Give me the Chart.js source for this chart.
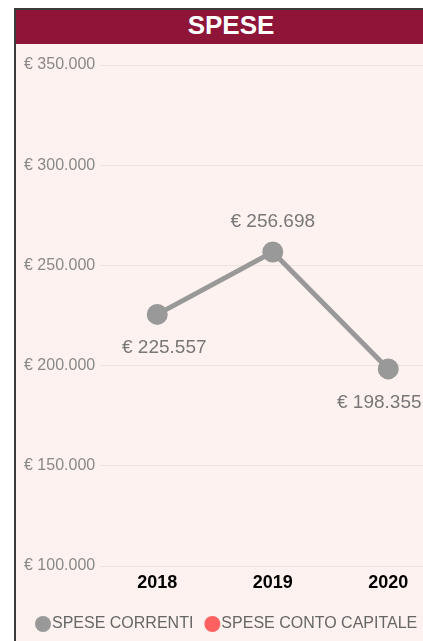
<!DOCTYPE html>
<html>
<head>
<meta charset="utf-8">
<script src="https://cdn.jsdelivr.net/npm/chart.js@4.4.0/dist/chart.umd.min.js"></script>
<style>
  html, body { margin: 0; padding: 0; background: #fff; overflow: hidden; }
  .card {
    position: absolute; left: 14px; top: 8px; width: 430px;
    border-top: 2px solid #3b3b3b; border-left: 2px solid #3b3b3b;
    background: #fdf2ef;
  }
  .card-title {
    height: 34px; line-height: 35px; background: #8e1538; color: #fff;
    text-align: center; font: bold 26px "Liberation Sans", Arial, sans-serif;
  }
  .chart-box { position: relative; width: 443px; height: 598px; background: #fdf2ef; }
  canvas { display: block; }
</style>
</head>
<body>
<div class="card">
  <div class="card-title">SPESE</div>
  <div class="chart-box"><canvas id="speseChart" width="443" height="598"></canvas></div>
</div>
<script>
const anni = ["2018", "2019", "2020"]
const speseCorrenti = [225557, 256698, 198355]
const speseContoCapitale = [null, null, null]
const tickValori = [100000, 150000, 200000, 250000, 300000, 350000]

function euro(v) {
  return "€ " + String(Math.round(v)).replace(/\B(?=(\d{3})+(?!\d))/g, ".")
}

// etichette dei valori sopra/sotto i punti
const etichettePunti = {
  id: "etichettePunti",
  afterDatasetsDraw(chart, args, opts) {
    const ctx = chart.ctx
    const meta = chart.getDatasetMeta(0)
    ctx.save()
    ctx.font = opts.font
    ctx.fillStyle = opts.color
    ctx.textAlign = "center"
    ctx.textBaseline = "middle"
    meta.data.forEach((pt, i) => {
      const pos = opts.posizioni[i]
      ctx.fillText(euro(speseCorrenti[i]), pt.x + pos[0], pt.y + pos[1])
    })
    ctx.restore()
  }
}

const ctx = document.getElementById("speseChart").getContext("2d")
new Chart(ctx, {
  type: "line",
  data: {
    labels: anni,
    datasets: [
      {
        label: "SPESE CORRENTI",
        data: speseCorrenti,
        borderColor: "#999999",
        backgroundColor: "#999999",
        borderWidth: 5,
        pointRadius: 8,
        pointHoverRadius: 8,
        tension: 0,
      },
      {
        label: "SPESE CONTO CAPITALE",
        data: speseContoCapitale,
        borderColor: "#ff6161",
        backgroundColor: "#ff6161",
        borderWidth: 5,
        pointRadius: 8,
      },
    ],
  },
  options: {
    responsive: false,
    animation: false,
    devicePixelRatio: 1,
    layout: { padding: { left: 8, top: 21, right: 0, bottom: 0 } },
    scales: {
      x: {
        offset: true,
        grid: { display: false, drawTicks: false },
        border: { display: false },
        afterFit(scale) {
          scale.height = 32
        },
        ticks: {
          color: "#000",
          padding: 6,
          font: { family: "'Liberation Sans', Arial, sans-serif", size: 18, weight: "bold" },
        },
      },
      y: {
        min: 100000,
        max: 350000,
        afterBuildTicks(scale) {
          scale.ticks = tickValori.map((v) => ({ value: v }))
        },
        afterFit(scale) {
          scale.width = 75.5
        },
        grid: { color: "rgba(0,0,0,0.06)", drawTicks: false },
        border: { display: false },
        ticks: {
          crossAlign: "far",
          color: "#888",
          font: { family: "'Liberation Sans', Arial, sans-serif", size: 16 },
          callback: (v) => euro(v),
        },
      },
    },
    plugins: {
      legend: {
        position: "bottom",
        align: "start",
        labels: {
          usePointStyle: true,
          pointStyle: "circle",
          boxWidth: 2,
          boxHeight: 11.3,
          color: "#666",
          padding: 18,
          font: { family: "'Liberation Sans', Arial, sans-serif", size: 16 },
          // cerchi pieni senza bordo
          generateLabels(chart) {
            return Chart.defaults.plugins.legend.labels
              .generateLabels(chart)
              .map((l) => ({ ...l, lineWidth: 0 }))
          },
        },
      },
      tooltip: { enabled: false },
      etichettePunti: {
        font: "19px 'Liberation Sans', Arial, sans-serif",
        color: "#777",
        posizioni: [[7, 33], [0, -30], [-9, 34]],
      },
    },
  },
  plugins: [etichettePunti],
})
</script>
</body>
</html>
